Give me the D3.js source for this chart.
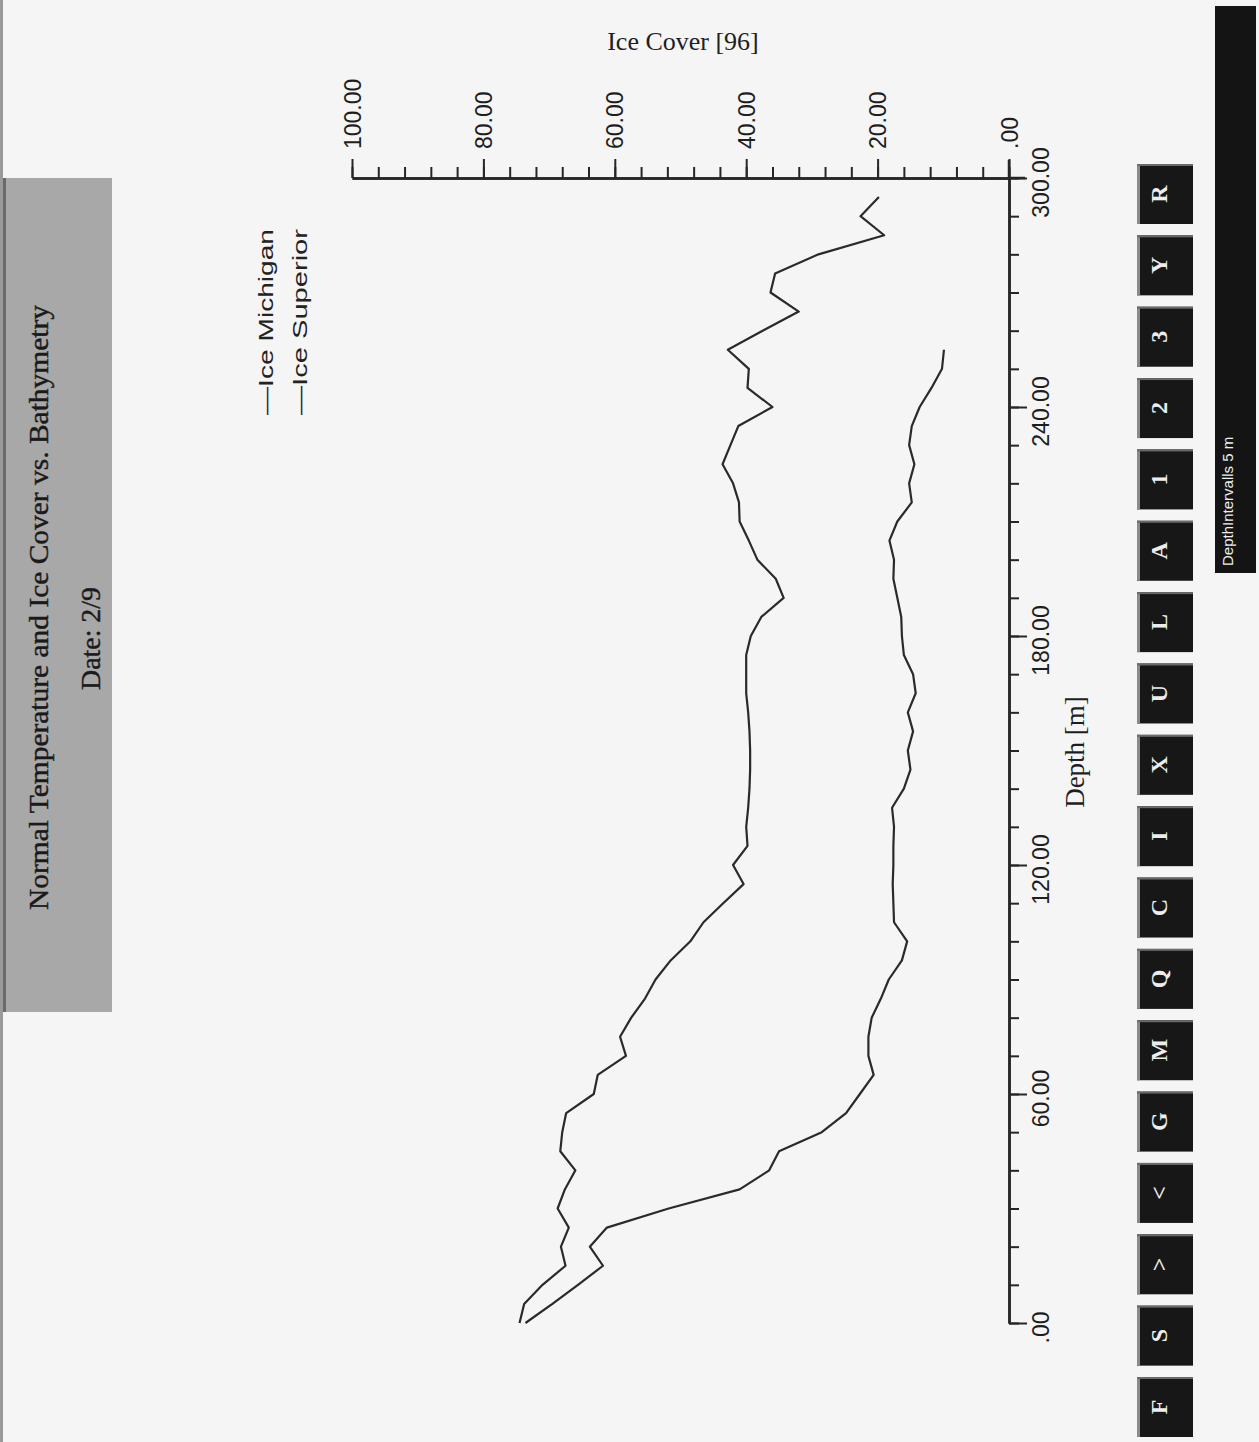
<!DOCTYPE html>
<html><head><meta charset="utf-8">
<script src="https://cdn.jsdelivr.net/npm/d3@7"></script>
<style>body{margin:0;background:#f5f5f5;} svg{display:block}</style>
</head><body>
<svg id="c" width="1259" height="1442"></svg>
<script>
// ---- data ----
const titleText = "Normal Temperature and Ice Cover vs. Bathymetry";
const dateText = "Date: 2/9";
const xTitle = "Ice Cover [96]";
const yTitle = "Depth [m]";
const seriesNames = ["Ice Michigan", "Ice Superior"];
const iceTicks = [0, 20, 40, 60, 80, 100];
const iceMinor = [0,4,8,12,16,20,24,28,32,36,40,44,48,52,56,60,64,68,72,76,80,84,88,92,96,100];
const depthTicks = [0, 60, 120, 180, 240, 300];
const depthMinor = [0,10,20,30,40,50,60,70,80,90,100,110,120,130,140,150,160,170,180,190,200,210,220,230,240,250,260,270,280,290,300];
const buttonLabels = ["F","S",">","<","G","M","Q","C","I","X","U","L","A","1","2","3","Y","R"];
const intervalText = "DepthIntervalls 5 m";

const depthSuperior = [0,5,10,15,20,25,30,35,40,45,50,55,60,65,70,75,80,85,90,95,100,105,110,115,120,125,130,135,140,145,150,155,160,165,170,175,180,185,190,195,200,205,210,215,220,225,230,235,240,245,250,255,260,265,270,275,280,285,290,295];
const iceSuperior = [74.5,73.8,71,67.5,68.2,67,68.7,67.6,66,68.3,68,67.4,63.2,62.6,58.3,59.2,57.5,55.4,53.8,51.5,48.5,46.5,43.5,40.4,42,39.8,40,39.7,39.5,39.4,39.4,39.5,39.7,40,40,40,39.3,37.7,34.3,35.5,38.3,39.6,41,41.1,42,43.6,42.4,41.2,36,39.8,39.6,42.8,37.5,32,36.3,35.6,29,19,22.6,19.8];
const depthMichigan = [0,5,10,15,20,25,30,35,40,45,50,55,60,65,70,75,80,85,90,95,100,105,110,115,120,125,130,135,140,145,150,155,160,165,170,175,180,185,190,195,200,205,210,215,220,225,230,235,240,245,250,255];
const iceMichigan = [73.6,69.5,65.6,61.8,63.8,61.2,51.8,41,36.5,35,28.5,24.8,22.7,20.6,21.4,21.4,20.9,19.5,18.3,16.3,15.5,17.5,17.6,17.7,17.6,17.6,17.5,17.8,16,15,15.4,14.6,15.4,14.2,14.6,16,16.3,16.4,17,17.6,17.5,18.2,17,14.8,15.2,14.4,15.2,14.8,13.6,11.8,10.2,9.9];

// ---- drawing ----
const W = 1259, H = 1442;
const ink = "#262626";
const svg = d3.select("#c");
svg.append("rect").attr("width", W).attr("height", H).attr("fill", "#f5f5f5");
svg.append("line").attr("x1",1.5).attr("x2",1.5).attr("y1",0).attr("y2",H).attr("stroke","#9a9a9a").attr("stroke-width",3);

const x = d3.scaleLinear().domain([100, 0]).range([352, 1009]);
const y = d3.scaleLinear().domain([0, 300]).range([1323, 178]);
const fmt = v => v === 0 ? ".00" : v.toFixed(2);

// title box
const tb = svg.append("g");
tb.append("rect").attr("x", 3).attr("y", 178).attr("width", 109).attr("height", 834).attr("fill", "#a8a8a8");
tb.append("rect").attr("x", 3).attr("y", 178).attr("width", 3).attr("height", 834).attr("fill", "#6a6a6a");
tb.append("text").text(titleText)
  .attr("transform", "translate(48,910) rotate(-90)")
  .attr("font-family", "Liberation Serif").attr("font-size", 27)
  .attr("stroke", "#1a1a1a").attr("stroke-width", 0.4)
  .attr("textLength", 605).attr("lengthAdjust", "spacingAndGlyphs").attr("fill", "#1a1a1a");
tb.append("text").text(dateText)
  .attr("transform", "translate(100,690) rotate(-90)")
  .attr("font-family", "Liberation Serif").attr("font-size", 27)
  .attr("stroke", "#1a1a1a").attr("stroke-width", 0.4)
  .attr("textLength", 103).attr("lengthAdjust", "spacingAndGlyphs").attr("fill", "#1a1a1a");

// legend
const lg = svg.append("g");
seriesNames.forEach((n, i) => {
  lg.append("text").text("\u2014" + n)
    .attr("transform", `translate(${273 + i * 34},415) rotate(-90)`)
    .attr("font-family", "Liberation Sans").attr("font-size", 21)
    .attr("textLength", 186).attr("lengthAdjust", "spacingAndGlyphs").attr("fill", "#222");
});

// ice (value) axis at top: minor and major ticks in separate groups
const axTop = y(300);
const gImin = svg.append("g").attr("transform", `translate(0,${axTop})`);
gImin.call(d3.axisTop(x).tickValues(iceMinor).tickSize(11).tickSizeOuter(0).tickFormat(""));
const gI = svg.append("g").attr("transform", `translate(0,${axTop})`);
gI.call(d3.axisTop(x).tickValues(iceTicks).tickSize(19).tickSizeOuter(0).tickFormat(fmt));
[gImin, gI].forEach(g => {
  g.selectAll("path.domain").attr("stroke", ink).attr("stroke-width", 2.5);
  g.selectAll(".tick line").attr("stroke", ink).attr("stroke-width", 2);
});
gI.selectAll(".tick text")
  .attr("transform", "rotate(-90)").attr("x", 29).attr("y", 8).attr("dy", null)
  .attr("text-anchor", "start").attr("font-family", "Liberation Sans").attr("font-size", 23).attr("fill", "#1e1e1e");
gI.append("line").attr("x1", x(0)).attr("x2", x(0) + 16).attr("y1", 0).attr("y2", 0).attr("stroke", ink).attr("stroke-width", 2.5);

svg.append("text").text(xTitle).attr("x", 683).attr("y", 50).attr("text-anchor", "middle")
  .attr("font-family", "Liberation Serif").attr("font-size", 26).attr("fill", "#1e1e1e");

// depth axis on right
const axX = x(0);
const gDmin = svg.append("g").attr("transform", `translate(${axX},0)`);
gDmin.call(d3.axisRight(y).tickValues(depthMinor).tickSize(10).tickSizeOuter(0).tickFormat(""));
const gD = svg.append("g").attr("transform", `translate(${axX},0)`);
gD.call(d3.axisRight(y).tickValues(depthTicks).tickSize(18).tickSizeOuter(0).tickFormat(fmt));
[gDmin, gD].forEach(g => {
  g.selectAll("path.domain").attr("stroke", ink).attr("stroke-width", 2.5);
  g.selectAll(".tick line").attr("stroke", ink).attr("stroke-width", 2);
});
gD.selectAll(".tick text")
  .attr("transform", "rotate(-90)").attr("x", -4).attr("y", 40).attr("dy", null)
  .attr("text-anchor", "middle").attr("font-family", "Liberation Sans").attr("font-size", 23).attr("fill", "#1e1e1e");
gD.append("line").attr("x1", 0).attr("x2", 0).attr("y1", y(300)).attr("y2", y(300) - 18).attr("stroke", ink).attr("stroke-width", 2.5);

svg.append("text").text(yTitle)
  .attr("transform", `translate(1084,${752}) rotate(-90)`).attr("text-anchor", "middle")
  .attr("font-family", "Liberation Serif").attr("font-size", 27).attr("fill", "#1e1e1e");

// series lines
const line = d3.line().x(d => x(d[1])).y(d => y(d[0]));
const dataSup = depthSuperior.map((d, i) => [d, iceSuperior[i]]);
const dataMich = depthMichigan.map((d, i) => [d, iceMichigan[i]]);
[dataSup, dataMich].forEach(ds => {
  svg.append("path").datum(ds).attr("d", line).attr("fill", "none")
    .attr("stroke", "#2a2a2a").attr("stroke-width", 2.2).attr("stroke-linejoin", "round");
});

// buttons
const by = d3.scalePoint().domain(buttonLabels).range([1407, 194]);
const bg = svg.append("g");
buttonLabels.forEach(b => {
  const cy = by(b);
  bg.append("rect").attr("x", 1137).attr("y", cy - 30).attr("width", 56).attr("height", 60).attr("fill", "#171717");
  bg.append("rect").attr("x", 1137).attr("y", cy - 30).attr("width", 3).attr("height", 60).attr("fill", "#8a8a8a");
  bg.append("rect").attr("x", 1137).attr("y", cy - 30).attr("width", 56).attr("height", 2).attr("fill", "#6a6a6a");
  bg.append("text").text(b)
    .attr("transform", `translate(1167,${cy}) rotate(-90)`).attr("text-anchor", "middle")
    .attr("font-family", "Liberation Serif").attr("font-weight", "bold").attr("font-size", 24).attr("fill", "#ededed");
});

// right info bar
svg.append("rect").attr("x", 1215).attr("y", 6).attr("width", 41).attr("height", 567).attr("fill", "#141414");
svg.append("text").text(intervalText)
  .attr("transform", "translate(1233,566) rotate(-90)")
  .attr("font-family", "Liberation Sans").attr("font-size", 15).attr("fill", "#eeeeee");
</script>
</body></html>
